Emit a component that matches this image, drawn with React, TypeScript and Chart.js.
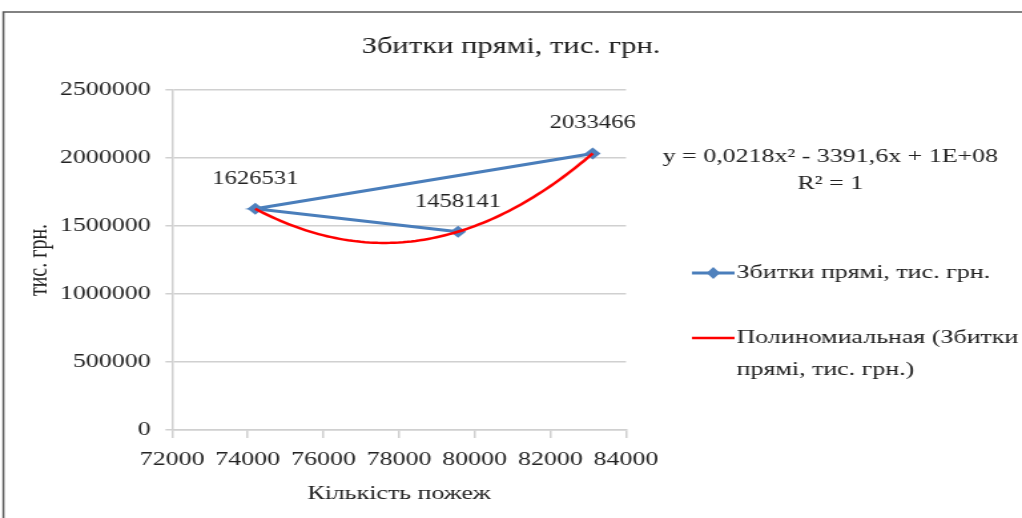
import React, { useEffect, useRef } from "react";
import { Chart, registerables } from "chart.js";

Chart.register(...registerables);

// ---- data ----
const fireCounts = [79560, 74200, 83120];
const directLosses = [1458141, 1626531, 2033466];
const seriesName = "Збитки прямі, тис. грн.";
const trendName = ["Полиномиальная (Збитки", "прямі, тис. грн.)"];
const chartTitle = "Збитки прямі, тис. грн.";
const xTitle = "Кількість пожеж";
const yTitle = "тис. грн.";
const equationLines = ["y = 0,0218x² - 3391,6x + 1E+08", "R² = 1"];
const xTicks = [72000, 74000, 76000, 78000, 80000, 82000, 84000];
const yTicks = [0, 500000, 1000000, 1500000, 2000000, 2500000];

// quadratic trendline (order 2 least squares through 3 points = exact fit)
function quadFit(xs: number[], ys: number[]) {
  const [x0, x1, x2] = xs;
  const [y0, y1, y2] = ys;
  return (x: number) =>
    (y0 * (x - x1) * (x - x2)) / ((x0 - x1) * (x0 - x2)) +
    (y1 * (x - x0) * (x - x2)) / ((x1 - x0) * (x1 - x2)) +
    (y2 * (x - x0) * (x - x1)) / ((x2 - x0) * (x2 - x1));
}

const SCALE_X = 1022 / 768;
const FONT = "'Liberation Serif', 'Times New Roman', serif";
const TEXT = "#222222";
const BLUE_LINE = "#4A7EBB";
const BLUE_MARK = "#4F81BD";
const RED = "#FF0000";
const GRID = "#d0d0d0";

export default function App() {
  const ref = useRef<HTMLCanvasElement | null>(null);

  useEffect(() => {
    if (!ref.current) return;
    const f = quadFit(fireCounts, directLosses);
    const xmin = Math.min(...fireCounts);
    const xmax = Math.max(...fireCounts);
    const trend: { x: number; y: number }[] = [];
    const n = 80;
    for (let i = 0; i <= n; i++) {
      const x = xmin + ((xmax - xmin) * i) / n;
      trend.push({ x, y: f(x) });
    }

    const decor = {
      id: "decor",
      beforeDraw(chart: any) {
        const ctx = chart.ctx;
        ctx.save();
        ctx.fillStyle = "#ffffff";
        ctx.fillRect(0, 0, chart.width, chart.height);
        ctx.strokeStyle = "#595959";
        ctx.lineWidth = 1.5;
        ctx.strokeRect(2.6, 12, 900, 700);
        ctx.restore();
      },
      afterDraw(chart: any) {
        const ctx = chart.ctx;
        ctx.save();
        ctx.fillStyle = TEXT;
        // title
        ctx.font = `23px ${FONT}`;
        ctx.textAlign = "center";
        ctx.textBaseline = "middle";
        ctx.fillText(chartTitle, 384, 47);
        // data labels
        ctx.font = `18.5px ${FONT}`;
        const meta = chart.getDatasetMeta(0);
        meta.data.forEach((p: any, i: number) => {
          ctx.fillText(String(directLosses[i]), p.x, p.y - 30);
        });
        // equation
        ctx.font = `19.5px ${FONT}`;
        ctx.fillText(equationLines[0], 624, 157);
        ctx.fillText(equationLines[1], 624, 184);
        // legend
        ctx.font = `19.5px ${FONT}`;
        ctx.textAlign = "left";
        ctx.strokeStyle = BLUE_LINE;
        ctx.lineWidth = 3;
        ctx.beginPath();
        ctx.moveTo(520, 273);
        ctx.lineTo(552, 273);
        ctx.stroke();
        ctx.fillStyle = BLUE_MARK;
        ctx.beginPath();
        ctx.moveTo(536, 267);
        ctx.lineTo(541, 273);
        ctx.lineTo(536, 279);
        ctx.lineTo(531, 273);
        ctx.closePath();
        ctx.fill();
        ctx.fillStyle = TEXT;
        ctx.fillText(seriesName, 553.5, 273);
        ctx.strokeStyle = RED;
        ctx.lineWidth = 2.5;
        ctx.beginPath();
        ctx.moveTo(520, 338);
        ctx.lineTo(552, 338);
        ctx.stroke();
        ctx.fillText(trendName[0], 553.5, 338);
        ctx.fillText(trendName[1], 553.5, 370);
        ctx.restore();
      },
    };

    const chart = new Chart(ref.current, {
      type: "line",
      data: {
        datasets: [
          {
            label: seriesName,
            data: fireCounts.map((x, i) => ({ x, y: directLosses[i] })),
            borderColor: BLUE_LINE,
            backgroundColor: BLUE_MARK,
            borderWidth: 3,
            pointStyle: "rectRot",
            pointRadius: 6,
            pointBorderWidth: 0,
            pointBackgroundColor: BLUE_MARK,
            tension: 0,
            order: 2,
          },
          {
            label: trendName.join(" "),
            data: trend,
            borderColor: RED,
            borderWidth: 2.5,
            pointRadius: 0,
            tension: 0,
            order: 1,
          },
        ],
      },
      options: {
        responsive: false,
        animation: false,
        devicePixelRatio: 1,
        layout: { padding: { top: 90, right: 297.6, bottom: 0, left: 0 } },
        plugins: {
          legend: { display: false },
          tooltip: { enabled: false },
          title: { display: false },
        },
        scales: {
          x: {
            type: "linear",
            min: xTicks[0],
            max: xTicks[xTicks.length - 1],
            afterBuildTicks: (s: any) => {
              s.ticks = xTicks.map((v) => ({ value: v }));
            },
            afterFit: (s: any) => {
              s.height = 88;
            },
            ticks: {
              callback: (v: any) => String(v),
              font: { family: FONT, size: 19.5 },
              color: TEXT,
              padding: 10,
              maxRotation: 0,
            },
            grid: {
              drawOnChartArea: false,
              drawTicks: true,
              tickLength: 8,
              color: GRID,
              lineWidth: 1.5,
            },
            border: { display: true, color: GRID, width: 1.5 },
            title: {
              display: true,
              text: xTitle,
              font: { family: FONT, size: 19.5 },
              color: TEXT,
              padding: { top: 0, bottom: 12 },
            },
          },
          y: {
            type: "linear",
            min: yTicks[0],
            max: yTicks[yTicks.length - 1],
            afterBuildTicks: (s: any) => {
              s.ticks = yTicks.map((v) => ({ value: v }));
            },
            afterFit: (s: any) => {
              s.width = 129.3;
            },
            ticks: {
              callback: (v: any) => String(v),
              font: { family: FONT, size: 19.5 },
              color: TEXT,
              padding: 11,
            },
            grid: {
              drawTicks: true,
              tickLength: 5,
              color: GRID,
              lineWidth: 1.5,
            },
            border: { display: true, color: GRID, width: 1.5 },
            title: {
              display: true,
              text: yTitle,
              font: { family: FONT, size: 20 },
              color: TEXT,
              padding: { top: 18, bottom: 0 },
            },
          },
        },
      },
      plugins: [decor],
    } as any);
    return () => chart.destroy();
  }, []);

  return (
    <div
      style={{
        position: "fixed",
        left: 0,
        top: 0,
        width: 1022,
        height: 518,
        overflow: "hidden",
        background: "#fff",
      }}
    >
      <canvas
        ref={ref}
        width={768}
        height={518}
        style={{
          display: "block",
          transform: `scaleX(${SCALE_X})`,
          transformOrigin: "0 0",
        }}
      />
    </div>
  );
}
